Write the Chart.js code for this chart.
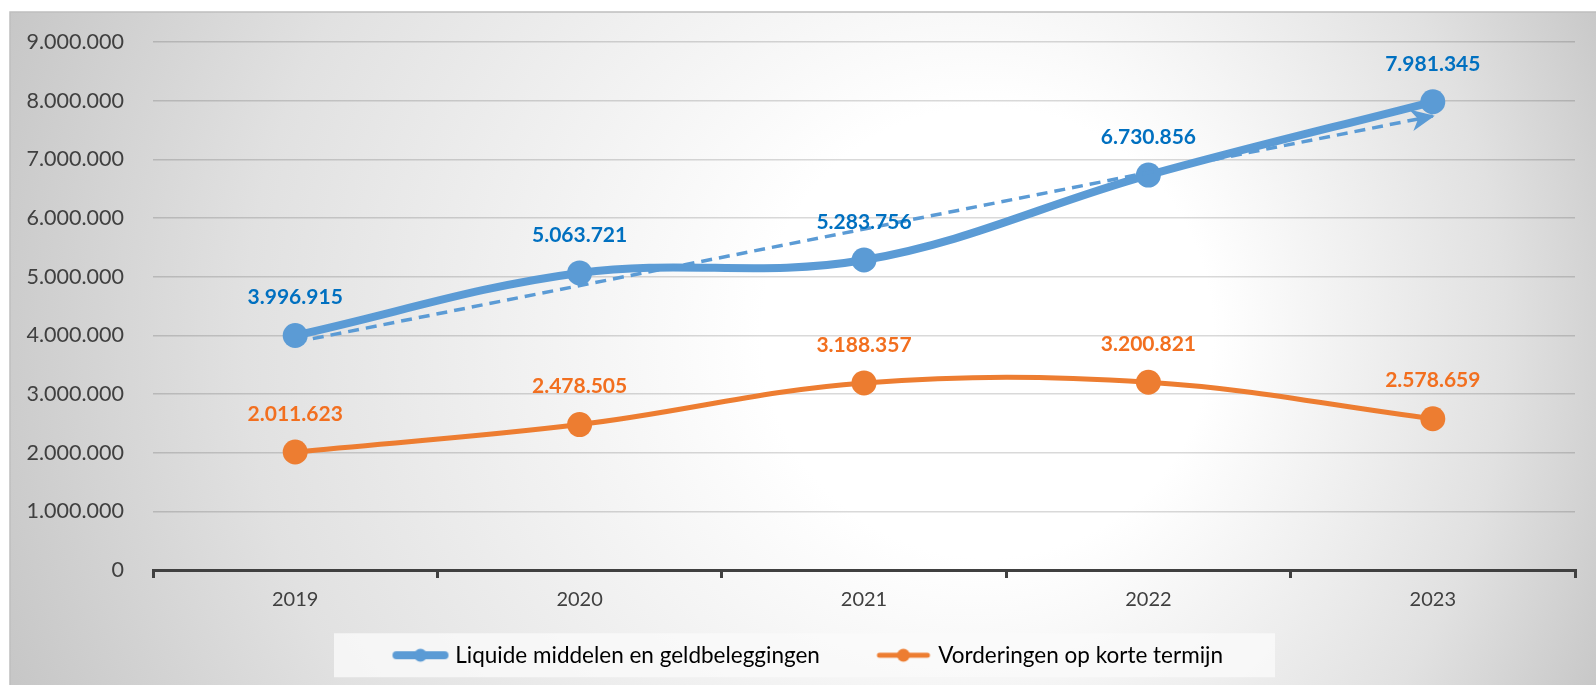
<!DOCTYPE html>
<html>
<head>
<meta charset="utf-8">
<title>Liquide middelen en vorderingen</title>
<script src="https://cdn.jsdelivr.net/npm/chart.js@4.4.1/dist/chart.umd.min.js"></script>
<style>
  html, body { margin: 0; padding: 0; background: #fff; }
  #wrap { position: relative; width: 1596px; height: 685px; }
</style>
</head>
<body>
<div id="wrap"><canvas id="myChart"></canvas></div>
<script>
// data
const years = ['2019', '2020', '2021', '2022', '2023'];
const liquide = [3996915, 5063721, 5283756, 6730856, 7981345];
const vorderingen = [2011623, 2478505, 3188357, 3200821, 2578659];
// dashed trend line of the blue series, only the two ends are known
const liquideTrend = [3884000, null, null, null, 7738000];
const seriesNames = ['Liquide middelen en geldbeleggingen', 'Vorderingen op korte termijn'];
const yTicks = [0, 1000000, 2000000, 3000000, 4000000, 5000000, 6000000, 7000000, 8000000, 9000000];

const BLUE = '#5B9BD5';
const ORANGE = '#ED7D31';
const FONT = 'Lato, "Open Sans", sans-serif';

function fmt(v) {
  return String(v).replace(/\B(?=(\d{3})+(?!\d))/g, '.');
}

// line + dot picture for the legend (drawn in the right part of the box)
function legendSymbol(color, lw) {
  var c = document.createElement('canvas');
  c.width = 86; c.height = 18;
  var g = c.getContext('2d');
  g.strokeStyle = color;
  g.lineWidth = lw;
  g.lineCap = 'round';
  g.beginPath();
  g.moveTo(33, 9); g.lineTo(81, 9);
  g.stroke();
  g.fillStyle = color;
  g.beginPath();
  g.arc(57, 9, 6.5, 0, Math.PI * 2);
  g.fill();
  return c;
}

//******************* background, frame and legend box *******************
const backgroundPlugin = {
  id: 'backgroundPlugin',
  afterLayout(chart) {
    // put the legend row where the original has it
    const lg = chart.legend;
    const p = lg.options.labels.padding;
    const start = (lg.left + p + lg.right - lg.lineWidths[0]) / 2;
    const dx = 369 - start;
    lg.left += dx;
    lg.right += dx;
  },
  beforeDraw(chart) {
    const ctx = chart.ctx;
    ctx.save();
    ctx.fillStyle = '#ffffff';
    ctx.fillRect(0, 0, chart.width, chart.height);
    const grad = ctx.createRadialGradient(1050, 330, 0, 800, 340, 900);
    grad.addColorStop(0, '#ffffff');
    grad.addColorStop(0.25, '#ffffff');
    grad.addColorStop(0.7, '#e1e1e1');
    grad.addColorStop(1, '#c3c3c3');
    ctx.fillStyle = grad;
    ctx.fillRect(10, 12, chart.width - 10, chart.height - 12);
    ctx.strokeStyle = '#bfbfbf';
    ctx.lineWidth = 1.5;
    ctx.beginPath();
    ctx.moveTo(10, chart.height);
    ctx.lineTo(10, 12);
    ctx.lineTo(chart.width, 12);
    ctx.stroke();

    const boxes = chart.legend.legendHitBoxes;
    if (boxes && boxes.length) {
      const first = boxes[0], last = boxes[boxes.length - 1];
      const x0 = first.left - 35;
      const x1 = last.left + last.width + 52;
      const cy = first.top + first.height / 2;
      ctx.fillStyle = 'rgba(250,250,250,0.8)';
      ctx.fillRect(x0, cy - 22, x1 - x0, 44);
    }
    ctx.restore();
  }
};

//******************* data labels and trend arrow *******************
const labelPlugin = {
  id: 'labelPlugin',
  afterDatasetsDraw(chart) {
    const ctx = chart.ctx;
    ctx.save();

    // arrow head at the end of the trend line
    const tm = chart.getDatasetMeta(0).data;
    const a = tm[0], b = tm[tm.length - 1];
    const ang = Math.atan2(b.y - a.y, b.x - a.x);
    ctx.translate(b.x, b.y);
    ctx.rotate(ang);
    ctx.fillStyle = BLUE;
    ctx.beginPath();
    ctx.moveTo(2, 0);
    ctx.lineTo(-22, -11);
    ctx.lineTo(-15, 0);
    ctx.lineTo(-22, 11);
    ctx.closePath();
    ctx.fill();
    ctx.setTransform(1, 0, 0, 1, 0, 0);

    ctx.font = 'bold 21px ' + FONT;
    ctx.textAlign = 'center';
    ctx.textBaseline = 'middle';
    const colors = { 1: '#0070C0', 2: '#F26F1F' };
    [1, 2].forEach(function (di) {
      const ds = chart.data.datasets[di];
      chart.getDatasetMeta(di).data.forEach(function (pt, i) {
        ctx.fillStyle = colors[di];
        ctx.fillText(fmt(ds.data[i]), pt.x, pt.y - 38);
      });
    });
    ctx.restore();
  }
};

var ctx = document.getElementById('myChart').getContext('2d');
var chart = new Chart(ctx, {
  type: 'line',
  data: {
    labels: years,
    datasets: [
      {
        label: 'Trend',
        data: liquideTrend,
        spanGaps: true,
        borderColor: BLUE,
        borderWidth: 3.5,
        borderDash: [11, 7],
        pointRadius: 0,
        tension: 0,
        order: 0
      },
      {
        label: seriesNames[0],
        data: liquide,
        borderColor: BLUE,
        backgroundColor: BLUE,
        borderWidth: 8,
        pointRadius: 12.5,
        pointBorderWidth: 0,
        pointBackgroundColor: BLUE,
        tension: 0.37,
        order: 1
      },
      {
        label: seriesNames[1],
        data: vorderingen,
        borderColor: ORANGE,
        backgroundColor: ORANGE,
        borderWidth: 5,
        pointRadius: 12.5,
        pointBorderWidth: 0,
        pointBackgroundColor: ORANGE,
        tension: 0.37,
        order: 2
      }
    ]
  },
  options: {
    responsive: true,
    maintainAspectRatio: false,
    animation: false,
    devicePixelRatio: 1,
    layout: { padding: { left: 10, right: 21, top: 42, bottom: 8.5 } },
    plugins: {
      tooltip: { enabled: false },
      legend: {
        position: 'bottom',
        labels: {
          usePointStyle: true,
          pointStyleWidth: 75,
          padding: 32,
          color: '#404040',
          font: { family: FONT, size: 22.5 },
          generateLabels: function () {
            return [
              { text: seriesNames[0], pointStyle: legendSymbol(BLUE, 8), fillStyle: BLUE, strokeStyle: BLUE, lineWidth: 0, hidden: false, datasetIndex: 1 },
              { text: seriesNames[1], pointStyle: legendSymbol(ORANGE, 5), fillStyle: ORANGE, strokeStyle: ORANGE, lineWidth: 0, hidden: false, datasetIndex: 2 }
            ];
          }
        }
      }
    },
    scales: {
      x: {
        offset: true,
        grid: {
          offset: true,
          drawOnChartArea: false,
          drawTicks: true,
          tickLength: 8,
          color: '#404040',
          lineWidth: 3
        },
        border: { display: true, color: '#404040', width: 3 },
        ticks: { color: '#404040', padding: 10, font: { family: FONT, size: 20 } },
        afterFit: function (scale) { scale.height = 42; }
      },
      y: {
        min: yTicks[0],
        max: yTicks[yTicks.length - 1],
        afterBuildTicks: function (scale) {
          scale.ticks = yTicks.map(function (v) { return { value: v }; });
        },
        grid: { drawTicks: false, color: 'rgba(0,0,0,0.15)', lineWidth: 1.5 },
        border: { display: false },
        ticks: {
          color: '#404040',
          padding: 29,
          font: { family: FONT, size: 21.5 },
          callback: function (v) { return fmt(v); }
        },
        afterFit: function (scale) { scale.width = 143; }
      }
    }
  },
  plugins: [backgroundPlugin, labelPlugin]
});
</script>
</body>
</html>
